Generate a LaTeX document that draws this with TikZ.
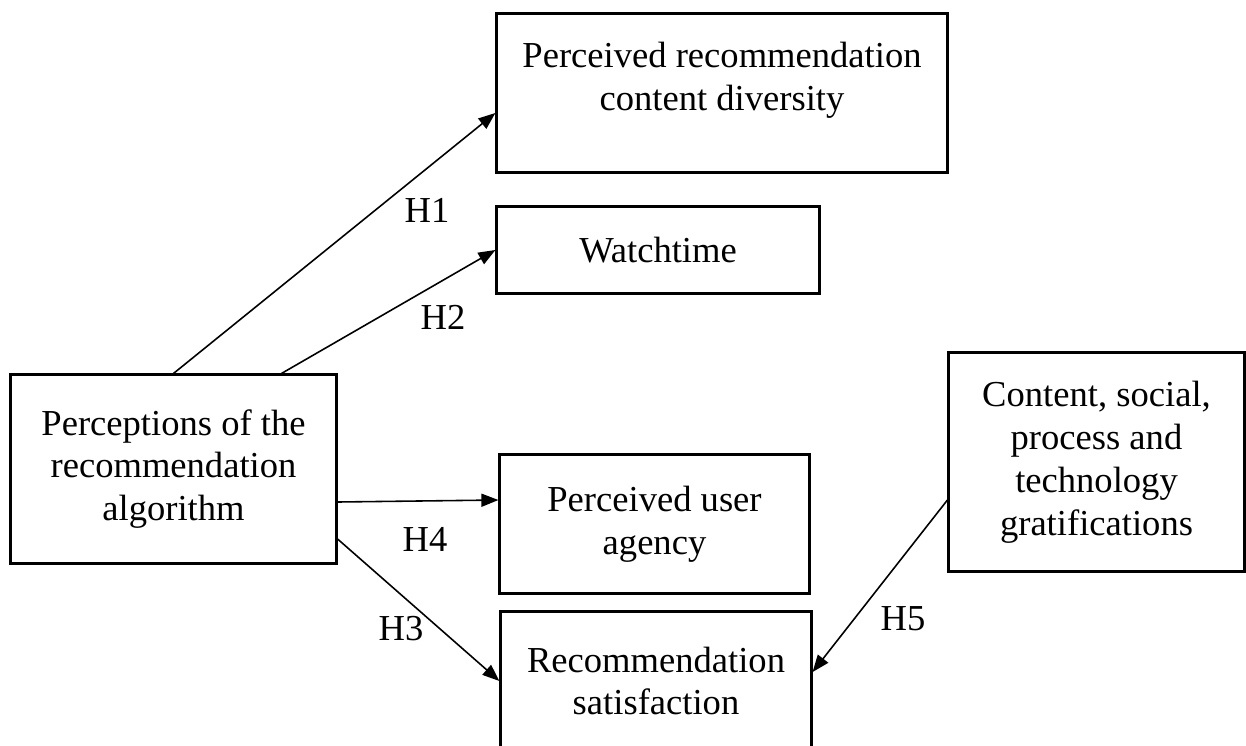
\documentclass[tikz,border=0pt]{standalone}
\usepackage{fontspec}
\setmainfont{Liberation Serif}
\usetikzlibrary{calc, arrows.meta}

\begin{document}
\begin{tikzpicture}[x=0.01cm, y=-0.01cm,
    boxtext/.style={align=center, inner sep=0pt, font=\fontsize{10.4}{12.2}\selectfont},
    factor/.style={boxtext, draw, line width=0.85pt},
    hyp/.style={-{Triangle[length=0.17cm, width=0.13cm]}, line width=0.45pt},
    hlabel/.style={font=\fontsize{10.4}{12.2}\selectfont}]

    \useasboundingbox (0,0) rectangle (1246,745);
    \clip (0,0) rectangle (1246,745);

    % factors of the model
    \node[factor, minimum width=4.5cm, minimum height=1.58cm] (diversity) at (722,93) {};
    \node[boxtext] (diversitytext) at (722,80) {Perceived recommendation\\content diversity};
    \node[factor, minimum width=3.22cm, minimum height=0.86cm] (watch) at (658,250) {Watchtime};
    \node[factor, minimum width=3.25cm, minimum height=1.88cm] (algo) at (173.5,469)
        {Perceptions of the\\recommendation\\algorithm};
    \node[factor, minimum width=3.09cm, minimum height=1.38cm] (agency) at (654.5,524)
        {Perceived user\\agency};
    \node[factor, minimum width=3.10cm, minimum height=1.38cm] (satis) at (656,681)
        {Recommendation\\satisfaction};
    \node[factor, minimum width=2.95cm, minimum height=2.18cm] (grat) at (1096.5,462)
        {Content, social,\\process and\\technology\\gratifications};

    % hypotheses
    \draw[hyp] (algo.north) -- ($(diversity.west)+(0,20)$);
    \draw[hyp] ($(algo.north)+(108,0)$) -- (watch.west);
    \draw[hyp] ($(algo.east)+(0,33)$) -- ($(agency.west)+(0,-24)$);
    \draw[hyp] ($(algo.east)+(0,70)$) -- (satis.west);
    \draw[hyp] ($(grat.west)+(0,38)$) -- ($(satis.east)+(0,-9)$);

    \node[hlabel] (h1) at (427,210) {H1};
    \node[hlabel] (h2) at (443,317) {H2};
    \node[hlabel] (h4) at (425,539) {H4};
    \node[hlabel] (h3) at (401,629) {H3};
    \node[hlabel] (h5) at (903,619) {H5};

\end{tikzpicture}
\end{document}
